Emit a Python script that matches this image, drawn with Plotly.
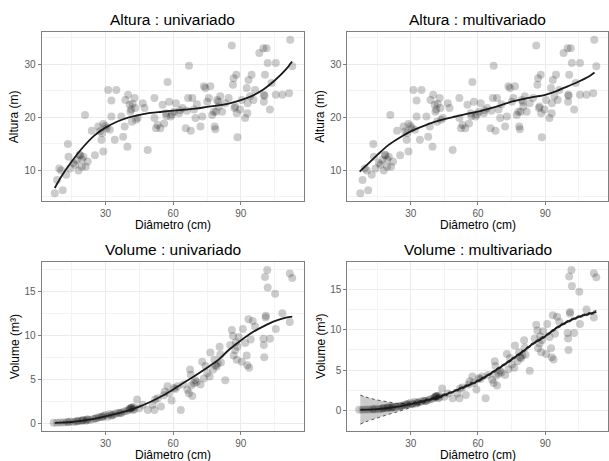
import plotly.graph_objects as go

# ---------------- data ----------------
alt_diam = [7.5, 8.5, 9.5, 11.0, 10.4, 12.6, 13.3, 13.6, 14.3, 15.8, 17.3, 18.0, 18.7, 19.5, 19.5,
            20.2, 20.9, 21.2, 22.1, 23.9, 25.3, 26.8, 27.5, 28.2, 29.0, 29.0, 30.0, 31.2, 31.9, 32.6,
            32.6, 34.1, 34.8, 37.0, 37.8, 38.5, 38.8, 39.7, 40.0, 40.7, 41.4, 41.7, 42.9, 43.2, 44.3,
            46.5, 47.3, 48.7, 51.7, 51.7, 52.4, 53.1, 54.3, 55.3, 56.0, 56.8, 57.5, 58.2, 58.9, 60.4,
            61.2, 62.6, 64.1, 65.6, 66.6, 67.0, 67.8, 68.5, 69.2, 69.9, 72.1, 72.9, 73.6, 74.3, 75.1,
            75.8, 76.5, 77.3, 78.0, 78.4, 78.7, 79.5, 80.2, 80.9, 81.7, 83.1, 84.6, 86.0, 86.5, 86.8,
            87.2, 88.0, 88.2, 88.5, 89.7, 90.4, 91.9, 92.6, 92.9, 93.4, 94.1, 94.8, 95.6, 96.3, 98.2,
            100.0, 100.2, 100.2, 100.7, 101.4, 101.9, 102.9, 103.6, 105.5, 105.5, 108.4, 111.4, 111.9, 112.8,
            16.5, 18.5, 28.5, 30.5, 41.0, 42.0, 43.5, 57.0, 59.5, 63.0, 66.0, 70.5, 79.0, 80.0, 87.5, 93.0, 100.5]
alt_height = [5.6, 8.1, 10.3, 6.2, 9.9, 9.1, 14.9, 12.5, 10.3, 11.3, 11.9, 9.9, 12.8, 12.0, 10.6,
              12.5, 20.4, 10.6, 11.6, 17.4, 12.8, 18.2, 17.3, 15.7, 18.7, 13.5, 18.3, 25.1, 17.6, 23.1,
              20.1, 15.7, 25.1, 20.1, 16.3, 18.2, 23.2, 14.4, 24.2, 22.3, 21.4, 19.1, 23.6, 21.7, 19.8,
              22.6, 21.7, 13.8, 23.6, 19.8, 17.9, 18.5, 17.9, 22.3, 18.8, 20.7, 26.6, 22.9, 20.1, 21.0,
              22.6, 20.7, 21.7, 17.9, 23.6, 29.7, 17.4, 23.6, 21.4, 19.8, 18.2, 20.1, 25.8, 25.5, 22.9,
              23.6, 25.8, 20.4, 21.0, 18.2, 17.7, 23.2, 22.0, 23.9, 21.0, 22.6, 23.6, 33.5, 26.1, 27.3,
              21.7, 28.0, 20.7, 16.2, 21.4, 23.2, 19.8, 25.5, 20.7, 27.0, 23.9, 28.0, 23.2, 25.1, 32.1,
              33.0, 24.2, 22.9, 28.0, 33.0, 30.2, 21.4, 26.4, 30.2, 24.2, 24.2, 24.5, 34.6, 29.6,
              11.0, 12.9, 17.0, 17.9, 21.0, 22.5, 19.5, 20.2, 20.5, 21.3, 21.2, 22.4, 21.0, 22.9, 22.0, 22.6, 24.0]

vol_diam = [7.0, 8.5, 10.0, 11.4, 12.9, 14.3, 15.8, 16.8, 18.0, 19.2, 20.2, 21.2, 22.1, 23.1, 24.6,
            26.0, 27.0, 28.0, 29.0, 30.0, 30.9, 31.9, 32.6, 33.8, 34.8, 35.9, 37.0, 38.2, 39.2, 40.2,
            41.1, 41.7, 42.1, 42.9, 44.0, 45.0, 46.5, 48.7, 50.9, 51.7, 52.0, 53.1, 54.6, 55.8, 56.3,
            57.5, 58.2, 59.3, 60.4, 61.9, 63.4, 64.5, 66.3, 67.0, 67.5, 67.8, 68.5, 69.2, 70.4, 72.1,
            72.9, 73.6, 74.3, 75.1, 76.2, 76.5, 77.7, 78.3, 79.2, 79.8, 80.6, 80.9, 81.2, 83.1, 85.3,
            86.0, 86.5, 86.8, 87.5, 88.2, 88.5, 89.1, 90.4, 90.9, 91.9, 92.6, 92.9, 93.4, 93.7, 94.4,
            95.3, 96.3, 100.0, 100.2, 100.4, 100.7, 101.0, 101.1, 101.7, 101.9, 102.9, 105.2, 105.5, 108.4,
            111.7, 111.7, 112.8,
            13.5, 17.5, 19.8, 21.8, 25.5, 28.6, 33.0, 36.5, 40.8, 41.4, 42.5, 61.0, 68.0, 69.8, 78.8, 87.8]
vol_value = [0.08, 0.08, 0.10, 0.10, 0.15, 0.20, 0.15, 0.20, 0.30, 0.27, 0.38, 0.30, 0.45, 0.38, 0.50,
             0.57, 0.68, 0.76, 0.83, 0.95, 0.76, 1.06, 0.87, 1.00, 1.14, 1.20, 1.20, 1.33, 1.40, 1.50,
             1.70, 1.80, 1.50, 1.60, 2.70, 1.70, 2.10, 1.50, 2.10, 1.50, 2.70, 2.85, 1.90, 3.20, 3.60,
             4.20, 3.40, 2.60, 4.00, 4.20, 1.50, 4.40, 3.80, 3.40, 6.10, 5.50, 3.10, 4.55, 4.70, 4.40,
             7.00, 5.10, 6.50, 5.70, 5.30, 8.05, 6.10, 7.20, 6.45, 6.80, 8.70, 7.80, 6.90, 4.90, 8.90,
             10.6, 9.90, 7.70, 8.30, 7.20, 8.70, 9.80, 7.00, 10.7, 9.10, 7.70, 6.60, 11.8, 6.30, 9.50,
             11.6, 11.0, 9.60, 8.90, 7.50, 16.6, 12.0, 12.2, 17.4, 15.4, 9.60, 14.7, 10.7, 12.5,
             17.0, 11.5, 16.5,
             0.12, 0.25, 0.35, 0.40, 0.55, 0.70, 0.95, 1.15, 1.65, 1.75, 1.85, 3.90, 4.30, 4.90, 6.60, 9.20]

# fitted curves
fit_alt_uni_d = [7.5, 10, 15, 20, 25, 30, 35, 40, 45, 50, 55, 60, 65, 70, 75, 80, 85, 90, 95, 100, 105, 110, 112.7]
fit_alt_uni_h = [6.6, 8.5, 11.6, 14.3, 16.5, 18.0, 19.1, 19.9, 20.4, 20.8, 21.0, 21.2, 21.4, 21.6, 21.9,
                 22.2, 22.6, 23.2, 24.0, 25.2, 26.9, 29.0, 30.5]
fit_alt_mul_d = [7.2, 10, 15, 20, 25, 30, 35, 40, 45, 50, 55, 60, 65, 70, 75, 80, 85, 90, 95, 100, 105, 110, 112]
fit_alt_mul_h = [9.7, 10.8, 12.8, 14.7, 16.1, 17.3, 18.2, 19.0, 19.6, 20.1, 20.6, 21.0, 21.6, 22.2, 22.9,
                 23.4, 23.8, 24.2, 24.9, 25.8, 26.7, 27.8, 28.4]
fit_vol_d = [7.5, 10, 15, 20, 25, 30, 35, 40, 45, 50, 55, 60, 65, 70, 75, 80, 85, 90, 95, 100, 105, 110, 112.8]
fit_vol_uni_v = [0.05, 0.08, 0.15, 0.30, 0.50, 0.78, 1.10, 1.45, 1.90, 2.45, 3.10, 3.85, 4.65, 5.45, 6.30,
                 7.20, 8.40, 9.40, 10.3, 11.0, 11.6, 12.0, 12.1]
fit_vol_mul_v = [0.08, 0.10, 0.15, 0.30, 0.50, 0.78, 1.10, 1.45, 1.90, 2.45, 3.05, 3.65, 4.45, 5.35, 6.30,
                 7.30, 8.35, 9.20, 10.2, 11.0, 11.6, 12.0, 12.2]
band_vol_mul_lo = [-1.7, -1.4, -0.95, -0.5, -0.1, 0.35, 0.85, 1.30, 1.75, 2.30, 2.90, 3.50, 4.30, 5.20, 6.15,
                   7.15, 8.20, 9.05, 10.05, 10.85, 11.45, 11.85, 12.0]
band_vol_mul_hi = [1.9, 1.65, 1.30, 1.05, 0.85, 0.95, 1.25, 1.60, 2.05, 2.60, 3.20, 3.80, 4.60, 5.50, 6.45,
                   7.45, 8.50, 9.35, 10.35, 11.15, 11.75, 12.15, 12.4]

panel_titles = ["Altura : univariado", "Altura : multivariado", "Volume : univariado", "Volume : multivariado"]
x_title = "Diâmetro (cm)"
y_titles = ["Altura (m)", "Altura (m)", "Volume (m³)", "Volume (m³)"]

# ---------------- figure ----------------
W, H = 609, 461
FONT = "Liberation Sans, Arial, sans-serif"
PT_COLOR = "rgba(0,0,0,0.2)"

fig = go.Figure()

panels = [  # (x left px, x right px, y top px, y bottom px)
    (41.7, 304.2, 32.0, 201.0),
    (347.3, 608.2, 32.0, 201.0),
    (41.7, 304.2, 262.3, 431.0),
    (347.3, 608.2, 262.3, 431.0),
]
yranges = [[4.15, 36.05], [4.15, 36.05], [-0.87, 18.27], [-2.55, 18.35]]

for i, (xl, xr, yt, yb) in enumerate(panels):
    n = "" if i == 0 else str(i + 1)
    common = dict(showline=True, mirror=True, linecolor="#7f7f7f", linewidth=1,
                  showgrid=True, gridcolor="#ebebeb", gridwidth=1, zeroline=False,
                  ticks="outside", ticklen=3, tickcolor="#7f7f7f", tickwidth=1,
                  tickfont=dict(family=FONT, size=10, color="#5a5a5a"))
    fig.layout["xaxis" + n] = dict(common, domain=[xl / W, xr / W], range=[1.7, 118.1],
                                   anchor="y" + n, tickvals=[30, 60, 90],
                                   minor=dict(tickvals=[15, 45, 75, 105], showgrid=True,
                                              gridcolor="#f3f3f3", gridwidth=1))
    if i < 2:
        yt_vals, ym_vals = [10, 20, 30], [5, 15, 25, 35]
    else:
        yt_vals, ym_vals = [0, 5, 10, 15], [2.5, 7.5, 12.5, 17.5]
    fig.layout["yaxis" + n] = dict(common, domain=[1 - yb / H, 1 - yt / H], range=yranges[i],
                                   anchor="x" + n, tickvals=yt_vals,
                                   minor=dict(tickvals=ym_vals, showgrid=True,
                                              gridcolor="#f3f3f3", gridwidth=1))
    xa, ya = "x" + n, "y" + n

    # confidence band
    if i == 3:
        fig.add_trace(go.Scatter(x=fit_vol_d, y=band_vol_mul_lo, mode="lines", xaxis=xa, yaxis=ya,
                                 line=dict(color="rgba(0,0,0,0.8)", width=0.8, dash="dot", shape="spline"),
                                 showlegend=False, hoverinfo="skip"))
        fig.add_trace(go.Scatter(x=fit_vol_d, y=band_vol_mul_hi, mode="lines", xaxis=xa, yaxis=ya,
                                 fill="tonexty", fillcolor="rgba(0,0,0,0.2)",
                                 line=dict(color="rgba(0,0,0,0.8)", width=0.8, dash="dot", shape="spline"),
                                 showlegend=False, hoverinfo="skip"))

    # points
    if i < 2:
        px, py = alt_diam, alt_height
    else:
        px, py = vol_diam, vol_value
    fig.add_trace(go.Scatter(x=px, y=py, mode="markers", xaxis=xa, yaxis=ya,
                             marker=dict(size=8, color=PT_COLOR, line=dict(width=0)),
                             showlegend=False))

    # fitted line
    if i == 0:
        fx, fy = fit_alt_uni_d, fit_alt_uni_h
    elif i == 1:
        fx, fy = fit_alt_mul_d, fit_alt_mul_h
    elif i == 2:
        fx, fy = fit_vol_d, fit_vol_uni_v
    else:
        fx, fy = fit_vol_d, fit_vol_mul_v
    fig.add_trace(go.Scatter(x=fx, y=fy, mode="lines", xaxis=xa, yaxis=ya,
                             line=dict(color="#1a1a1a", width=1.8, shape="spline"),
                             showlegend=False))

    # annotations: panel title, axis titles
    cx = (xl + xr) / 2 / W
    fig.add_annotation(text=panel_titles[i], x=cx, y=1 - (yt - 12.5) / H, xref="paper", yref="paper",
                       showarrow=False, xanchor="center", yanchor="middle",
                       font=dict(family=FONT, size=15.5, color="#000000"))
    fig.add_annotation(text=x_title, x=cx, y=1 - (yb + 23.5) / H, xref="paper", yref="paper",
                       showarrow=False, xanchor="center", yanchor="middle",
                       font=dict(family=FONT, size=12, color="#000000"))
    fig.add_annotation(text=y_titles[i], x=(xl - 27) / W, y=1 - (yt + yb) / 2 / H, xref="paper",
                       yref="paper", showarrow=False, xanchor="center", yanchor="middle", textangle=-90,
                       font=dict(family=FONT, size=12, color="#000000"))

fig.update_layout(width=W, height=H, autosize=False, margin=dict(l=0, r=0, t=0, b=0),
                  paper_bgcolor="white", plot_bgcolor="white", showlegend=False,
                  font=dict(family=FONT))

fig.write_html("out.html", config={"displayModeBar": False},
               post_script="document.body.style.margin='0px';document.body.style.overflow='hidden';")
